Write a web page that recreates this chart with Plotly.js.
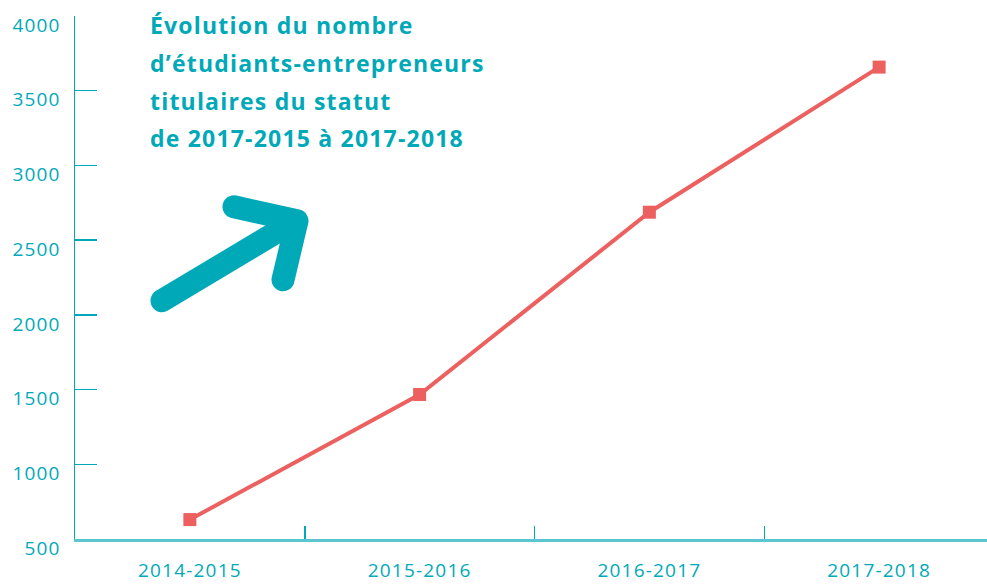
<!DOCTYPE html>
<html>
<head>
<meta charset="utf-8">
<script src="https://cdn.plot.ly/plotly-3.0.1.min.js"></script>
<style>
html,body{margin:0;padding:0;background:#fff;}
#chart{width:987px;height:584px;}
.shapelayer path{stroke-linecap:round;stroke-linejoin:round;}
.xtick text,.ytick text{letter-spacing:1.2px;}
.annotation-text{letter-spacing:1.2px;}
</style>
</head>
<body>
<div id="chart"></div>
<script>
const categories = ['2014-2015', '2015-2016', '2016-2017', '2017-2018'];
const students = [630, 1467, 2687, 3658];
const yTicks = [500, 1000, 1500, 2000, 2500, 3000, 3500, 4000];
const titleLines = [
  'Évolution du nombre',
  'd’étudiants-entrepreneurs',
  'titulaires du statut',
  'de 2017-2015 à 2017-2018'
];

const TEAL = '#00a9b8';
const RED = '#ec6060';

const W = 987, H = 584;
const L = 75, T = 16, B = 44.5;
const plotW = W - L, plotH = H - T - B;
const px = x => (x - L) / plotW;
const py = y => (H - B - y) / plotH;

const trace = {
  x: categories,
  y: students,
  type: 'scatter',
  mode: 'lines+markers',
  line: {color: RED, width: 4},
  marker: {symbol: 'square', size: 13, color: RED},
  hoverinfo: 'skip'
};

const titleY = [25, 63, 101, 138];
const annotations = titleLines.map((t, i) => ({
  text: '<b>' + t + '</b>',
  xref: 'paper', yref: 'paper',
  x: px(148), y: py(titleY[i]),
  xanchor: 'left', yanchor: 'middle',
  showarrow: false,
  font: {family: 'Open Sans', size: 23, color: TEAL}
}));

const shapes = [
  {type: 'path', xref: 'paper', yref: 'paper',
   path: `M ${px(162)} ${py(301)} L ${px(292)} ${py(223)}`,
   line: {color: TEAL, width: 23}},
  {type: 'path', xref: 'paper', yref: 'paper',
   path: `M ${px(234)} ${py(207)} L ${px(297)} ${py(221)} L ${px(283)} ${py(280)}`,
   line: {color: TEAL, width: 23}}
];

const layout = {
  width: W, height: H,
  margin: {l: L, r: 0, t: T, b: B, pad: 0},
  paper_bgcolor: '#fff', plot_bgcolor: '#fff',
  showlegend: false,
  xaxis: {
    type: 'category',
    range: [-0.5, 3.5 - 7 / 229.8],
    tickson: 'boundaries',
    ticks: 'inside', ticklen: 13, tickwidth: 1.5, tickcolor: TEAL,
    showline: true, linecolor: '#5cc6ce', linewidth: 2.5,
    showgrid: false, zeroline: false,
    tickfont: {family: 'Open Sans', size: 19, color: TEAL},
    ticklabelstandoff: 13
  },
  yaxis: {
    range: [500, 4000],
    tickvals: yTicks,
    ticks: 'inside', ticklen: 22, tickwidth: 1.5, tickcolor: TEAL,
    showline: true, linecolor: TEAL, linewidth: 1.5,
    showgrid: false, zeroline: false,
    tickfont: {family: 'Open Sans', size: 19, color: TEAL},
    ticklabelshift: 9,
    ticklabelstandoff: 9
  },
  annotations: annotations,
  shapes: shapes
};

Plotly.newPlot('chart', [trace], layout, {displayModeBar: false, staticPlot: true});
</script>
</body>
</html>
